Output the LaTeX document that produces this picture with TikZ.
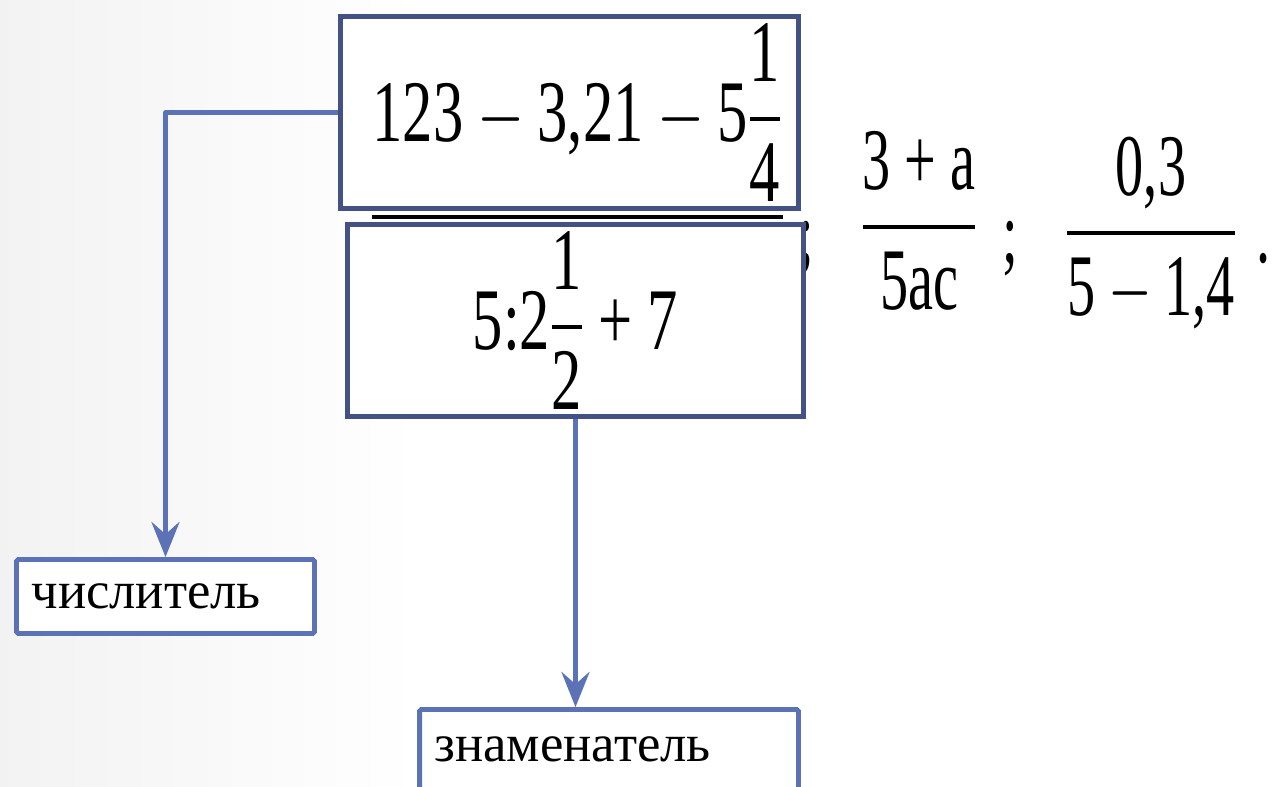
\RequirePackage{fix-cm}
\documentclass[tikz,border=0pt]{standalone}
\usepackage{amsmath}
\usepackage{fontspec}
\setmainfont{Liberation Serif}
\usetikzlibrary{arrows.meta,positioning}
\definecolor{boxink}{HTML}{435283}
\definecolor{linkblue}{HTML}{5B73B6}
\newcommand{\condmath}[2][0.69]{\scalebox{#1}[1]{$\displaystyle #2$}}
\newcommand{\thickfrac}[2]{\genfrac{}{}{2.4pt}{0}{#1}{#2}}
\tikzset{
  >={Stealth[length=20pt,width=16pt,inset=7pt]},
  every node/.style={text=black},
  exprbox/.style={draw=boxink,line width=2.8pt,fill=white,inner sep=0pt,minimum width=9.16cm,minimum height=3.84cm,font=\fontsize{50}{60}\selectfont},
  mathtext/.style={inner sep=0pt,font=\fontsize{50}{60}\selectfont},
  wordbox/.style={draw=linkblue,line width=2.8pt,fill=white,align=left,inner xsep=0.3cm,rounded corners=1pt,font=\fontsize{30}{36}\selectfont},
  arrow/.style={->,line width=2.6pt,draw=linkblue,line join=round},
}

\begin{document}
\begin{tikzpicture}[x=0.02cm,y=-0.02cm]
\fill[white] (0,0) rectangle (1274,787);
\shade[left color=black!5,right color=white] (0,0) rectangle (420,787);
\useasboundingbox (0,0) rectangle (1274,787);
% the big fraction, half hidden by the boxes
\node[mathtext,anchor=base] (semia) at (806,262) {\condmath[0.64]{\text{;}}};
\node[exprbox] (numbox) at (569.5,112.5) {\hspace*{0.3cm}\condmath{\text{123}-\text{3,21}-\text{5}\thickfrac{\text{1}}{\text{4}}}};
\draw[line width=2pt] (372,217) -- (783,217);
\node[exprbox,minimum width=9.12cm] (denbox) at (575.5,320.5) {\condmath{\text{5:2}\thickfrac{\text{1}}{\text{2}}\text{ + 7}}};
% the other two fractions
\node[mathtext,anchor=base] (fracb) at (919,249) {\condmath[0.64]{\thickfrac{\text{3 + a}}{\text{5ac}}}};
\node[mathtext,anchor=base] (semib) at (1010,262) {\condmath[0.64]{\text{;}}};
\node[mathtext,anchor=base] (fracc) at (1151,255) {\condmath[0.64]{\thickfrac{\text{0,3}}{\text{5}-\text{1,4}}}};
\node[mathtext,anchor=base] (stop) at (1264,262) {\condmath[0.64]{\text{.}}};
% labels
\node[wordbox,text width=5.36cm,minimum height=1.48cm] (numlabel) at (165.5,596.5) {числитель};
\node[wordbox,text width=6.98cm,minimum height=1.6cm] (denlabel) at (609,749.5) {знаменатель};
\draw[arrow] (numbox.west) -| (numlabel.north);
\draw[arrow] (denbox.south) -- (denbox.south |- denlabel.north);
\end{tikzpicture}
\end{document}
